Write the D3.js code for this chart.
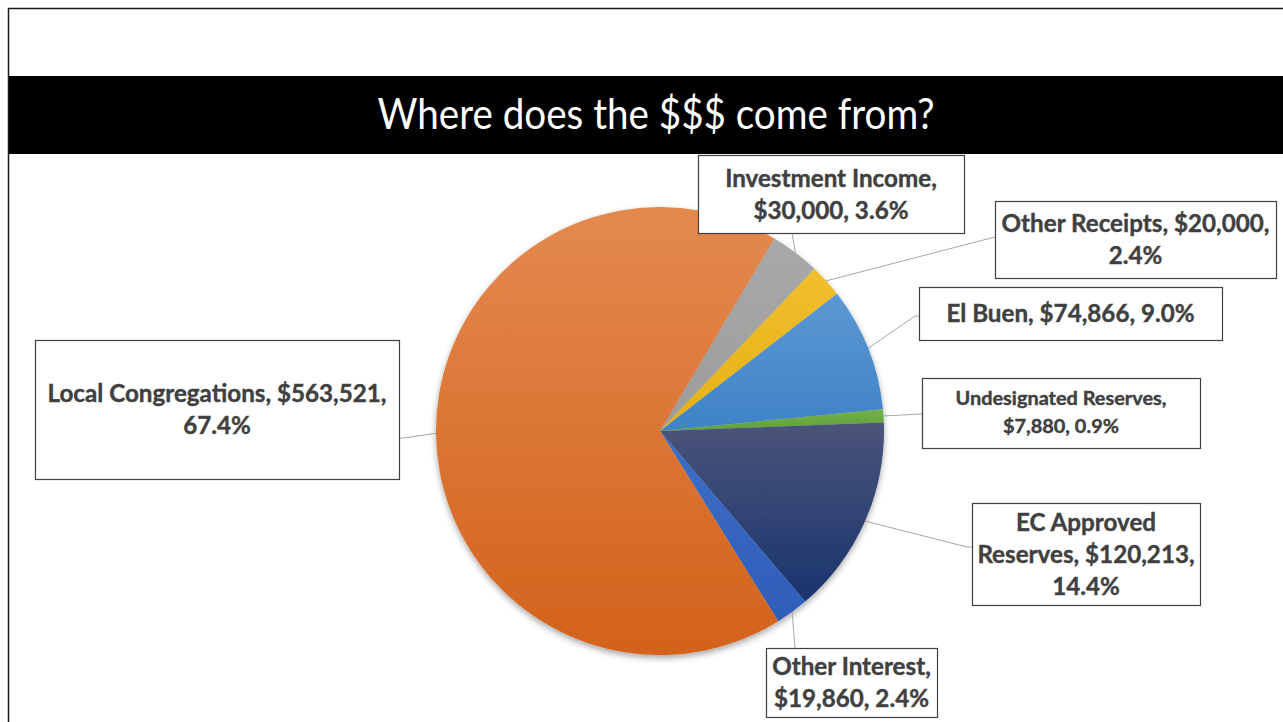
<!DOCTYPE html>
<html><head><meta charset="utf-8">
<script src="https://cdn.jsdelivr.net/npm/d3@7"></script>
<style>body{margin:0;background:#fff}svg{display:block}</style>
</head><body><svg id="c" width="1283" height="722"></svg>
<script>
// ---- data ----
const categories = ["Investment Income","Other Receipts","El Buen","Undesignated Reserves","EC Approved Reserves","Other Interest","Local Congregations"];
const values = [30000,20000,74866,7880,120213,19860,563521];
const titleText = "Where does the $$$ come from?";

// ---- style / layout ----
const gradTop    = ["#A9A9A9","#F0BF2F","#5C98D3","#72B04A","#4A5479","#3E6DC7","#E4894F"];
const gradBottom = ["#9C9C9C","#E6B012","#3E83C7","#62A23B","#19346E","#2E5EB9","#D3621A"];
const cx = 660, cy = 431, R = 224;
const startDeg = 30.7;
const layout = [
  {box:[698,155,266,78], small:false, leader:[[792,233]]},
  {box:[995,201,281,77], small:false, leader:[[995,237]]},
  {box:[919,287,303,53], small:false, leader:[[915,316],[919,316]]},
  {box:[922,378,278,70], small:true,  leader:[[922,414]]},
  {box:[972,503,228,102],small:false, leader:[[967,547],[972,547]]},
  {box:[766,648,171,69], small:false, leader:[[795,648]]},
  {box:[35,340,364,139], small:false, leader:[[404,438],[399,438]]}
];

const total = d3.sum(values);
const fmtMoney = d3.format("$,");
const fmtPct = d3.format(".1%");
function labelLines(i){
  const name = categories[i], v = fmtMoney(values[i]), p = fmtPct(values[i]/total);
  switch(i){
    case 0: return [name + ",", v + ", " + p];
    case 1: return [name + ", " + v + ",", p];
    case 2: return [name + ", " + v + ", " + p];
    case 3: return [name + ",", v + ", " + p];
    case 4: return ["EC Approved", "Reserves, " + v + ",", p];
    case 5: return [name + ",", v + ", " + p];
    case 6: return [name + ", " + v + ",", p];
  }
}

const svg = d3.select("#c");
svg.append("rect").attr("width",1283).attr("height",722).attr("fill","#fff");
svg.append("path").attr("d","M8.5,722 V8.5 H1283").attr("fill","none").attr("stroke","#1a1a1a").attr("stroke-width",1.5);
svg.append("rect").attr("x",9).attr("y",76).attr("width",1274).attr("height",78).attr("fill","#000");

const FONT = "Lato, 'Open Sans', 'DejaVu Sans', sans-serif";
svg.append("text").attr("x",656).attr("y",129).attr("text-anchor","middle")
  .attr("fill","#fff").attr("font-family",FONT).attr("font-weight",400).attr("font-size",43)
  .attr("textLength",557).attr("lengthAdjust","spacingAndGlyphs").text(titleText);

const defs = svg.append("defs");
const f = defs.append("filter").attr("id","sh").attr("x","-10%").attr("y","-10%").attr("width","120%").attr("height","125%");
f.append("feDropShadow").attr("dx",0).attr("dy",3).attr("stdDeviation",3).attr("flood-color","#000").attr("flood-opacity",0.35);
values.forEach((v,i)=>{
  const g = defs.append("linearGradient").attr("id","g"+i).attr("x1",0).attr("y1",0).attr("x2",0).attr("y2",1);
  g.append("stop").attr("offset","0%").attr("stop-color",gradTop[i]);
  g.append("stop").attr("offset","100%").attr("stop-color",gradBottom[i]);
});

const pie = d3.pie().sort(null).value(d=>d).startAngle(startDeg*Math.PI/180).endAngle(startDeg*Math.PI/180+2*Math.PI);
const arcs = pie(values);
const arc = d3.arc().innerRadius(0).outerRadius(R);
const gp = svg.append("g").attr("transform",`translate(${cx},${cy})`).attr("filter","url(#sh)");
gp.selectAll("path").data(arcs).join("path").attr("d",arc).attr("fill",(d,i)=>`url(#g${i})`);

function measure(txt, size){
  const t = svg.append("text").attr("font-family",FONT).attr("font-weight",700).attr("font-size",size).text(txt);
  const w = t.node().getComputedTextLength(); t.remove(); return w;
}
const bigSize = 24.5, smallSize = 18.5;
const bigK = 339 / measure("Local Congregations, $563,521,", bigSize);
const smallK = 211 / measure("Undesignated Reserves,", smallSize);

const lg = svg.append("g");
arcs.forEach((d,i)=>{
  const a = (d.startAngle+d.endAngle)/2;
  const p0 = [cx + R*Math.sin(a), cy - R*Math.cos(a)];
  const pts = [p0].concat(layout[i].leader);
  lg.append("path").attr("d", d3.line()(pts)).attr("fill","none").attr("stroke","#A6A6A6").attr("stroke-width",1);
});

const lb = svg.append("g");
layout.forEach((L,i)=>{
  const [x,y,w,h] = L.box;
  lb.append("rect").attr("x",x+0.5).attr("y",y+0.5).attr("width",w).attr("height",h)
    .attr("fill","#fff").attr("stroke","#404040").attr("stroke-width",1.2);
  const lines = labelLines(i);
  const fs = L.small ? smallSize : bigSize;
  const k = L.small ? smallK : bigK;
  const lh = L.small ? 28 : 32;
  const cap = fs*0.35;
  const n = lines.length;
  lines.forEach((s,j)=>{
    lb.append("text").attr("x",x+w/2).attr("y",y+h/2+(j-(n-1)/2)*lh+cap)
      .attr("text-anchor","middle").attr("font-family",FONT).attr("font-weight",700)
      .attr("font-size",fs).attr("fill","#404040").attr("stroke","#404040").attr("stroke-width",0.4)
      .attr("textLength", measure(s, fs)*k).attr("lengthAdjust","spacingAndGlyphs").text(s);
  });
});
</script></body></html>
